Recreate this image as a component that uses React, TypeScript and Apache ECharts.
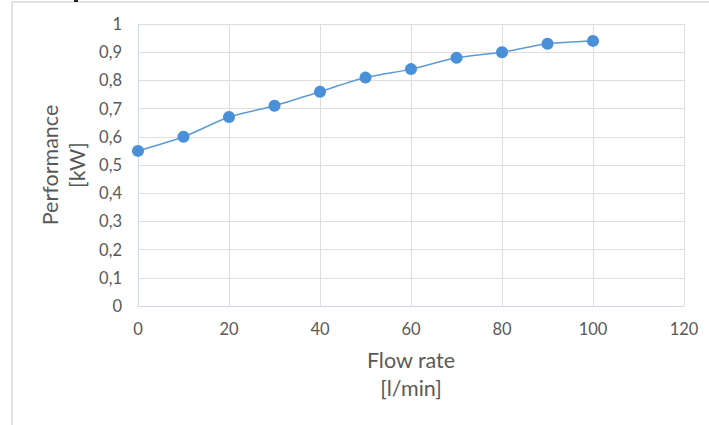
import React, { useEffect, useRef } from "react";
import * as echarts from "echarts";

const flowRates = [0, 10, 20, 30, 40, 50, 60, 70, 80, 90, 100];
const performance = [0.55, 0.6, 0.67, 0.71, 0.76, 0.81, 0.84, 0.88, 0.9, 0.93, 0.94];
const xAxisTitle = "Flow rate\n[l/min]";
const yAxisTitle = "Performance\n[kW]";

export default function App() {
  const ref = useRef<HTMLDivElement>(null);
  useEffect(() => {
    if (!ref.current) return;
    const chart = echarts.init(ref.current, null, { renderer: "svg" });
    const font = "Lato, 'Open Sans', sans-serif";
    chart.setOption({
      animation: false,
      backgroundColor: "#ffffff",
      textStyle: { fontFamily: font },
      grid: { left: 138, top: 24, width: 546, height: 282, containLabel: false },
      graphic: [
        { type: "line", shape: { x1: 12, y1: 2, x2: 709, y2: 2 }, style: { stroke: "#d9d9d9", lineWidth: 1.5 } },
        { type: "line", shape: { x1: 12, y1: 2, x2: 12, y2: 425 }, style: { stroke: "#d9d9d9", lineWidth: 1.5 } },
        { type: "rect", shape: { x: 74, y: 0, width: 4, height: 2 }, style: { fill: "#222" } },
      ],
      xAxis: {
        type: "value",
        min: 0,
        max: 120,
        interval: 20,
        name: xAxisTitle,
        nameLocation: "middle",
        nameGap: 40,
        nameMoveOverlap: false,
        nameTextStyle: { color: "#595959", fontSize: 21.5, lineHeight: 28, fontFamily: font },
        axisLine: { show: true, lineStyle: { color: "#d0d6e2", width: 1 } },
        axisTick: { show: false },
        axisLabel: { color: "#595959", fontSize: 16.5, margin: 14, fontFamily: font },
        splitLine: { show: true, lineStyle: { color: "#dedede", width: 1 } },
      },
      yAxis: {
        type: "value",
        min: 0,
        max: 1,
        interval: 0.1,
        name: yAxisTitle,
        nameLocation: "middle",
        nameGap: 48,
        nameMoveOverlap: false,
        nameTextStyle: { color: "#595959", fontSize: 21.5, lineHeight: 27, fontFamily: font },
        axisLine: { show: true, lineStyle: { color: "#d0d6e2", width: 1 } },
        axisTick: { show: false },
        axisLabel: {
          color: "#595959",
          fontSize: 16.5,
          margin: 16,
          fontFamily: font,
          formatter: (v: number) => String(Math.round(v * 10) / 10).replace(".", ","),
        },
        splitLine: { show: true, lineStyle: { color: "#dedede", width: 1 } },
      },
      series: [
        {
          type: "line",
          data: flowRates.map((x, i) => [x, performance[i]]),
          smooth: 0.25,
          symbol: "circle",
          symbolSize: 12,
          lineStyle: { color: "#5b9bd5", width: 1.5 },
          itemStyle: { color: "#4a90d9" },
        },
      ],
    });
    return () => chart.dispose();
  }, []);
  return (
    <div
      ref={ref}
      style={{ position: "fixed", left: 0, top: 0, width: 709, height: 425, background: "#fff" }}
    />
  );
}
